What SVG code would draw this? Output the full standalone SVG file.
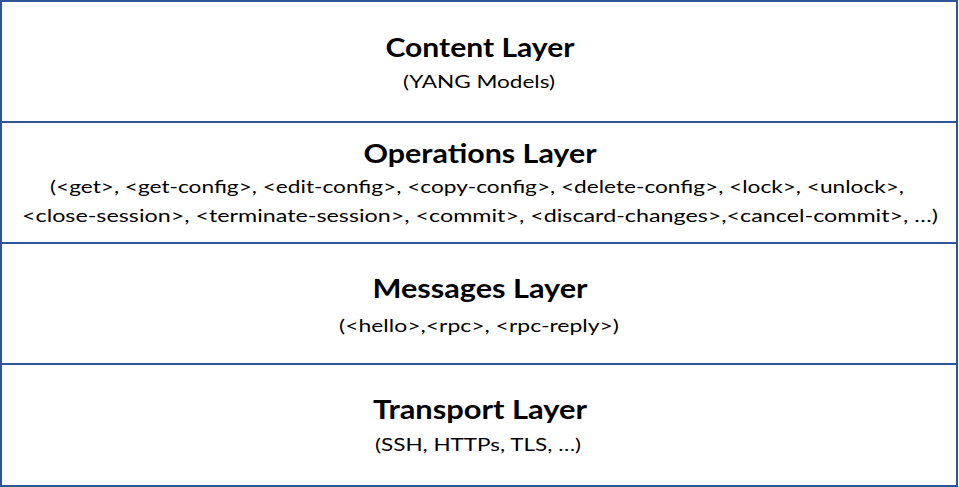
<svg xmlns="http://www.w3.org/2000/svg" width="959" height="487" viewBox="0 0 959 487">
<style>
.layer{fill:#ffffff;stroke:#2f5597;stroke-width:2}
.t{font-family:Lato,"Liberation Sans",sans-serif;font-weight:bold;font-size:26px;fill:#000;text-anchor:middle}
.s{font-family:Lato,"Liberation Sans",sans-serif;font-size:18px;fill:#000;text-anchor:middle}
.o{font-family:Lato,"Liberation Sans",sans-serif;font-size:18px;fill:#000}
</style>
<rect width="959" height="487" fill="#ffffff"/>
<g id="content-layer">
<rect class="layer" x="1" y="1" width="956" height="121"/>
<text class="t" x="480" y="57" textLength="189" lengthAdjust="spacingAndGlyphs">Content Layer</text>
<text class="s" x="479" y="88" textLength="152" lengthAdjust="spacingAndGlyphs">(YANG Models)</text>
</g>
<g id="operations-layer">
<rect class="layer" x="1" y="122" width="956" height="121"/>
<text class="t" x="480" y="163" textLength="233" lengthAdjust="spacingAndGlyphs">Operations Layer</text>
<text class="o" x="50" y="193" textLength="854" lengthAdjust="spacingAndGlyphs">(&lt;get&gt;, &lt;get-config&gt;, &lt;edit-config&gt;, &lt;copy-config&gt;, &lt;delete-config&gt;, &lt;lock&gt;, &lt;unlock&gt;,</text>
<text class="o" x="22" y="222" textLength="916" lengthAdjust="spacingAndGlyphs">&lt;close-session&gt;, &lt;terminate-session&gt;, &lt;commit&gt;, &lt;discard-changes&gt;,&lt;cancel-commit&gt;, …)</text>
</g>
<g id="messages-layer">
<rect class="layer" x="1" y="243" width="956" height="121"/>
<text class="t" x="480" y="298" textLength="215" lengthAdjust="spacingAndGlyphs">Messages Layer</text>
<text class="s" x="479" y="332" textLength="280" lengthAdjust="spacingAndGlyphs">(&lt;hello&gt;,&lt;rpc&gt;, &lt;rpc-reply&gt;)</text>
</g>
<g id="transport-layer">
<rect class="layer" x="1" y="364" width="956" height="122"/>
<text class="t" x="480" y="419" textLength="214" lengthAdjust="spacingAndGlyphs">Transport Layer</text>
<text class="s" x="478" y="451" textLength="206" lengthAdjust="spacingAndGlyphs">(SSH, HTTPs, TLS, …)</text>
</g>
<g id="connectors"></g>
</svg>
